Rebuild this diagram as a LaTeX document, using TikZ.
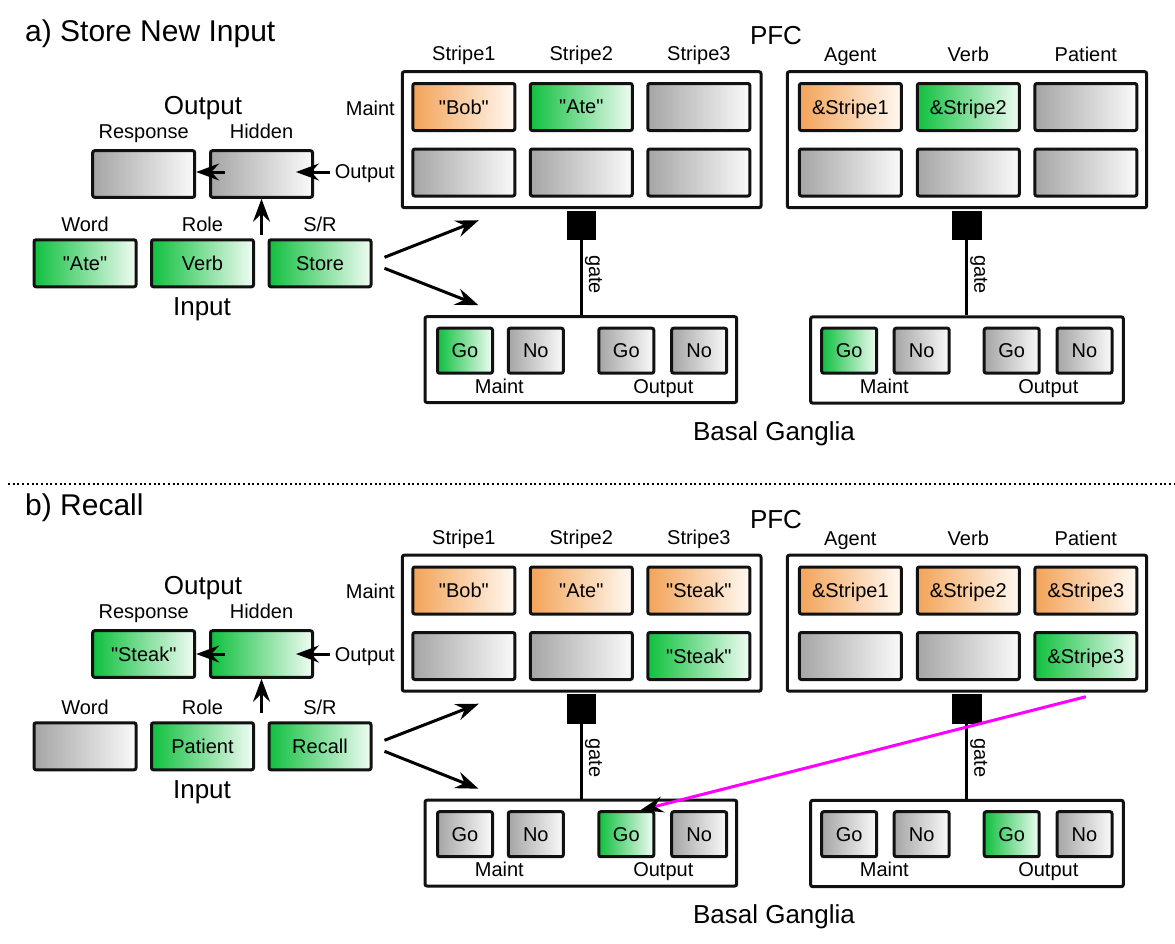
\documentclass[tikz,border=0pt]{standalone}
\usepackage{fontspec}
\setmainfont{Liberation Sans}
\usetikzlibrary{arrows.meta,calc}
\newcommand{\dq}{\textquotedbl}
\definecolor{gL}{RGB}{165,165,165}
\definecolor{gR}{RGB}{250,250,250}
\definecolor{grL}{RGB}{15,192,62}
\definecolor{grR}{RGB}{240,252,243}
\definecolor{oL}{RGB}{243,163,88}
\definecolor{oR}{RGB}{255,249,242}
\definecolor{edge}{RGB}{17,17,17}
\definecolor{mag}{RGB}{255,0,255}
\tikzset{
  cell/.style={draw=edge, line width=3pt, rounded corners=2pt, inner sep=0pt, text depth=0pt, font=\fontsize{20}{24}\selectfont},
  gc/.style={cell, left color=gL, right color=gR},
  grc/.style={cell, left color=grL, right color=grR},
  oc/.style={cell, left color=oL, right color=oR},
  wide/.style={minimum width=102pt, minimum height=47pt},
  sq/.style={minimum width=55pt, minimum height=45pt},
  frame/.style={draw=edge, line width=3pt, rounded corners=2pt, fill=white, inner sep=0pt},
  lbl/.style={font=\fontsize{20}{24}\selectfont, inner sep=0pt, anchor=base},
  biglbl/.style={font=\fontsize{26}{31}\selectfont, inner sep=0pt, anchor=base},
  ttl/.style={font=\fontsize{30}{36}\selectfont, inner sep=0pt, anchor=base west},
  arr/.style={line width=3pt, -{Stealth[length=23pt,width=17pt,inset=8pt]}},
  gatebox/.style={fill=black, minimum size=29.5pt, inner sep=0pt},
  gateline/.style={line width=3pt},
  gatelbl/.style={font=\fontsize{20}{24}\selectfont, inner sep=0pt, anchor=center, rotate=-90},
}
\begin{document}
\begin{tikzpicture}[x=1pt,y=-1pt]
\useasboundingbox (0,0) rectangle (1175,943);
\fill[white] (0,0) rectangle (1175,943);

%% ================= panel a =================
\node[ttl] (ta) at (25,41) {a) Store New Input};
% left output row
\node[biglbl] (aOutL) at (203,114.3) {Output};
\node[lbl] (aRespL) at (143.7,138.3) {Response};
\node[lbl] (aHidL) at (261.5,138.3) {Hidden};
\node[gc, wide, minimum height=46.6pt] (aResp) at (143.7,174) {};
\node[gc, wide, minimum height=46.6pt] (aHid) at (261.5,174) {};
% input row
\node[lbl] (aWordL) at (85,231.7) {Word};
\node[lbl] (aRoleL) at (202.5,231.7) {Role};
\node[lbl] (aSRL) at (320,231.7) {S/R};
\node[grc, wide] (aWord) at (85,263.3) {\dq Ate\dq};
\node[grc, wide] (aRole) at (202.5,263.3) {Verb};
\node[grc, wide] (aSR) at (320,263.3) {Store};
\node[biglbl] (aInL) at (202,315) {Input};
\node[lbl, anchor=base east] (aMaintL) at (395,115) {Maint};
\node[lbl, anchor=base east] (aOutpL) at (395,178.5) {Output};
% PFC
\node[biglbl] (aPFCL) at (776,44.5) {PFC};
\node[frame, minimum width=358.7pt, minimum height=136pt] (aPFC1) at (581.65,139.7) {};
\node[frame, minimum width=359.4pt, minimum height=136pt] (aPFC2) at (967,139.7) {};
\node[lbl] (aS1L) at (463.85,60.7) {Stripe1};
\node[lbl] (aS2L) at (581.3,60.7) {Stripe2};
\node[lbl] (aS3L) at (698.85,60.7) {Stripe3};
\node[lbl] (aAgL) at (850.35,61.5) {Agent};
\node[lbl] (aVbL) at (968.3,61.5) {Verb};
\node[lbl] (aPaL) at (1085.85,61.5) {Patient};
\node[oc, wide] (aP1m1) at (463.85,107) {\dq Bob\dq};
\node[grc, wide] (aP1m2) at (581.3,107) {\dq Ate\dq};
\node[gc, wide] (aP1m3) at (698.85,107) {};
\node[gc, wide] (aP1o1) at (463.85,172.5) {};
\node[gc, wide] (aP1o2) at (581.3,172.5) {};
\node[gc, wide] (aP1o3) at (698.85,172.5) {};
\node[oc, wide] (aP2m1) at (850.35,107) {\&Stripe1};
\node[grc, wide] (aP2m2) at (968.3,107) {\&Stripe2};
\node[gc, wide] (aP2m3) at (1085.85,107) {};
\node[gc, wide] (aP2o1) at (850.35,172.5) {};
\node[gc, wide] (aP2o2) at (968.3,172.5) {};
\node[gc, wide] (aP2o3) at (1085.85,172.5) {};
% BG
\node[frame, minimum width=311.7pt, minimum height=85.8pt] (aBG1) at (580.85,359.6) {};
\node[frame, minimum width=312.6pt, minimum height=86.3pt] (aBG2) at (967,360) {};
\node[grc, sq] (aB1mg) at (465,350.7) {Go};
\node[gc, sq] (aB1mn) at (535.8,350.7) {No};
\node[gc, sq] (aB1og) at (626.3,350.7) {Go};
\node[gc, sq] (aB1on) at (699.2,350.7) {No};
\node[grc, sq] (aB2mg) at (849.2,350.7) {Go};
\node[gc, sq] (aB2mn) at (921.7,350.7) {No};
\node[gc, sq] (aB2og) at (1011.7,350.7) {Go};
\node[gc, sq] (aB2on) at (1084.5,350.7) {No};
\node[lbl] (aB1mL) at (499.3,393.3) {Maint};
\node[lbl] (aB1oL) at (663.3,393.3) {Output};
\node[lbl] (aB2mL) at (884.3,393.3) {Maint};
\node[lbl] (aB2oL) at (1048.3,393.3) {Output};
\node[biglbl] (aBGL) at (774,440) {Basal Ganglia};
% gates
\node[gatebox] (aG1) at (581.5,225.5) {};
\node[gatebox] (aG2) at (966.8,225.5) {};
\draw[gateline] (aG1.south) -- (aG1.south |- aBG1.north);
\draw[gateline] (aG2.south) -- (aG2.south |- aBG2.north);
\node[gatelbl] (aGL1) at (593.5,274.5) {gate};
\node[gatelbl] (aGL2) at (978.8,274.5) {gate};
% arrows
\draw[arr] ($(aHid.west)+(16,-2)$) -- ($(aResp.east)+(0,-2)$);
\draw[arr] ($(aHid.east)+(16,-2)$) -- ($(aHid.east)+(-18,-2)$);
\draw[arr] ($(aHid.south)+(0,36)$) -- (aHid.south);
\draw[arr] ($(aSR.east)+(12,-6)$) -- ($(aPFC1.south west)+(78,11)$);
\draw[arr] ($(aSR.east)+(12,5)$) -- ($(aBG1.north west)+(55,-10)$);

%% separator
\draw[line width=2pt, dash pattern=on 2pt off 2.7pt] (8,484) -- (1175,484);

%% ================= panel b =================
\node[ttl] (tb) at (25,515) {b) Recall};
\begin{scope}[shift={(0,480)}]
\node[biglbl] (bOutL) at (203,114.3) {Output};
\node[lbl] (bRespL) at (143.7,138.3) {Response};
\node[lbl] (bHidL) at (261.5,138.3) {Hidden};
\node[grc, wide, minimum height=46.6pt] (bResp) at (143.7,174) {\dq Steak\dq};
\node[grc, wide, minimum height=46.6pt] (bHid) at (261.5,174) {};
\end{scope}
\begin{scope}[shift={(0,483)}]
\node[lbl] (bWordL) at (85,231.7) {Word};
\node[lbl] (bRoleL) at (202.5,231.7) {Role};
\node[lbl] (bSRL) at (320,231.7) {S/R};
\node[gc, wide] (bWord) at (85,263.3) {};
\node[grc, wide] (bRole) at (202.5,263.3) {Patient};
\node[grc, wide] (bSR) at (320,263.3) {Recall};
\node[biglbl] (bInL) at (202,315) {Input};
\node[lbl, anchor=base east] (bMaintL) at (395,115) {Maint};
\node[lbl, anchor=base east] (bOutpL) at (395,178.5) {Output};
\end{scope}
\begin{scope}[shift={(0,483.5)}]
\node[biglbl] (bPFCL) at (776,44.5) {PFC};
\node[frame, minimum width=358.7pt, minimum height=136pt] (bPFC1) at (581.65,139.7) {};
\node[frame, minimum width=359.4pt, minimum height=136pt] (bPFC2) at (967,139.7) {};
\node[lbl] (bS1L) at (463.85,60.7) {Stripe1};
\node[lbl] (bS2L) at (581.3,60.7) {Stripe2};
\node[lbl] (bS3L) at (698.85,60.7) {Stripe3};
\node[lbl] (bAgL) at (850.35,61.5) {Agent};
\node[lbl] (bVbL) at (968.3,61.5) {Verb};
\node[lbl] (bPaL) at (1085.85,61.5) {Patient};
\node[oc, wide] (bP1m1) at (463.85,107) {\dq Bob\dq};
\node[oc, wide] (bP1m2) at (581.3,107) {\dq Ate\dq};
\node[oc, wide] (bP1m3) at (698.85,107) {\dq Steak\dq};
\node[gc, wide] (bP1o1) at (463.85,172.5) {};
\node[gc, wide] (bP1o2) at (581.3,172.5) {};
\node[grc, wide] (bP1o3) at (698.85,172.5) {\dq Steak\dq};
\node[oc, wide] (bP2m1) at (850.35,107) {\&Stripe1};
\node[oc, wide] (bP2m2) at (968.3,107) {\&Stripe2};
\node[oc, wide] (bP2m3) at (1085.85,107) {\&Stripe3};
\node[gc, wide] (bP2o1) at (850.35,172.5) {};
\node[gc, wide] (bP2o2) at (968.3,172.5) {};
\node[grc, wide] (bP2o3) at (1085.85,172.5) {\&Stripe3};
\node[frame, minimum width=311.7pt, minimum height=85.8pt] (bBG1) at (580.85,359.6) {};
\node[frame, minimum width=312.6pt, minimum height=86.3pt] (bBG2) at (967,360) {};
\node[gc, sq] (bB1mg) at (465,350.7) {Go};
\node[gc, sq] (bB1mn) at (535.8,350.7) {No};
\node[grc, sq] (bB1og) at (626.3,350.7) {Go};
\node[gc, sq] (bB1on) at (699.2,350.7) {No};
\node[gc, sq] (bB2mg) at (849.2,350.7) {Go};
\node[gc, sq] (bB2mn) at (921.7,350.7) {No};
\node[grc, sq] (bB2og) at (1011.7,350.7) {Go};
\node[gc, sq] (bB2on) at (1084.5,350.7) {No};
\node[lbl] (bB1mL) at (499.3,393.3) {Maint};
\node[lbl] (bB1oL) at (663.3,393.3) {Output};
\node[lbl] (bB2mL) at (884.3,393.3) {Maint};
\node[lbl] (bB2oL) at (1048.3,393.3) {Output};
\node[biglbl] (bBGL) at (774,440) {Basal Ganglia};
\node[gatebox] (bG1) at (581.5,225.5) {};
\node[gatebox] (bG2) at (966.8,225.5) {};
\node[gatelbl] (bGL1) at (593.5,274.5) {gate};
\node[gatelbl] (bGL2) at (978.8,274.5) {gate};
\end{scope}
\draw[gateline] (bG1.south) -- (bG1.south |- bBG1.north);
\draw[gateline] (bG2.south) -- (bG2.south |- bBG2.north);
\draw[arr] ($(bHid.west)+(16,0)$) -- ($(bResp.east)+(0,0)$);
\draw[arr] ($(bHid.east)+(16,0)$) -- ($(bHid.east)+(-18,0)$);
\draw[arr] ($(bHid.south)+(0,34)$) -- (bHid.south);
\draw[arr] ($(bSR.east)+(12,-6)$) -- ($(bPFC1.south west)+(78,11)$);
\draw[arr] ($(bSR.east)+(12,5)$) -- ($(bBG1.north west)+(55,-10)$);
\draw[line width=3pt, mag, -{Stealth[black,length=23pt,width=16pt,inset=8pt]}]
  ($(bP2o3.south |- bPFC2.south)+(0,4)$) -- ($(bB1og.north)+(14,0)$);
\end{tikzpicture}
\end{document}
